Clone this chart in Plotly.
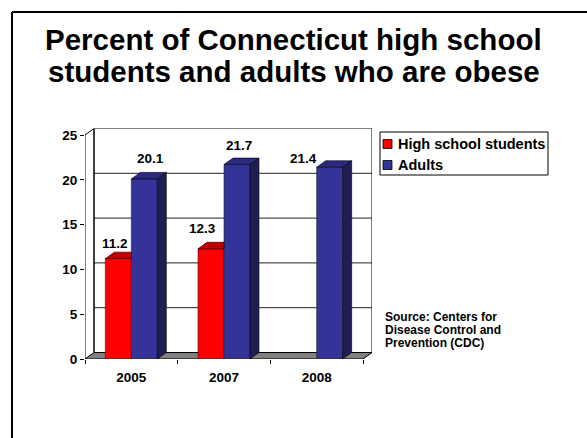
import plotly.graph_objects as go

# ---- data ----
years = ["2005", "2007", "2008"]
high_school = [11.2, 12.3, None]
adults = [20.1, 21.7, 21.4]
series_names = ["High school students", "Adults"]
y_ticks = [0, 5, 10, 15, 20, 25]
source_lines = ["Source: Centers for", "Disease Control and", "Prevention (CDC)"]

# ---- styling / geometry (pixels) ----
W, H = 587, 438
FRONT_LEFT, FRONT_RIGHT = 85, 363      # front plane of the x axis
BASE_PX, TOP_PX = 359, 135             # y pixel of 0 and of y max on the front plane
DEPTH_X, DEPTH_Y = 9, 6.5              # 3-D depth offset
BAR_PX = 26                            # bar width
Y_MAX = 25

front_colors = ["#FF0000", "#333399"]
top_colors = ["#C00000", "#2A2A80"]
side_colors = ["#800000", "#1E1E52"]
FONT = "Liberation Sans, Arial, sans-serif"

n_cat = len(years)
ppu_x = (FRONT_RIGHT - FRONT_LEFT) / n_cat
ppu_y = (BASE_PX - TOP_PX) / Y_MAX
dx = DEPTH_X / ppu_x
dy = DEPTH_Y / ppu_y
bw = BAR_PX / ppu_x

xs = list(range(n_cat))
x0, x1 = -0.5, n_cat - 0.5

fig = go.Figure()


def poly(px, py, fill, line="black", lw=0.7):
    fig.add_trace(go.Scatter(
        x=px + [px[0]], y=py + [py[0]], mode="lines", fill="toself",
        fillcolor=fill, line=dict(color=line, width=lw),
        hoverinfo="skip", showlegend=False))


def back_path(px, py, fill=None, color="black", lw=1, close=True):
    # drawn underneath the traces, in data coordinates
    d = "M" + " L".join(f"{a},{b}" for a, b in zip(px, py)) + (" Z" if close else "")
    fig.add_shape(type="path", xref="x", yref="y", path=d, layer="below",
                  fillcolor=fill if fill else "rgba(0,0,0,0)",
                  line=dict(color=color, width=lw))


# back wall with gridlines
back_path([x0 + dx, x1 + dx, x1 + dx, x0 + dx], [dy, dy, Y_MAX + dy, Y_MAX + dy], "white")
for t in y_ticks[1:-1]:
    back_path([x0 + dx, x1 + dx], [t + dy, t + dy], color="#202020", close=False)
# left wall outline
back_path([x0, x0, x0 + dx, x0 + dx], [0, Y_MAX, Y_MAX + dy, dy], close=False)
# floor
back_path([x0, x1, x1 + dx, x0 + dx], [0, 0, dy, dy], "#808080")

# front faces of the bars
series = [high_school, adults]
for s, (vals, name) in enumerate(zip(series, series_names)):
    fig.add_trace(go.Bar(
        x=xs, y=vals, name=name,
        marker=dict(color=front_colors[s], line=dict(color="#222222", width=0.6)),
        showlegend=False, hoverinfo="skip"))

# top and side faces
n_s = len(series)
for c in xs:
    for s, vals in enumerate(series):
        v = vals[c]
        if v is None:
            continue
        l = c - n_s * bw / 2 + s * bw
        r = l + bw
        nxt = series[s + 1][c] if s + 1 < n_s else None
        hidden = nxt is not None and nxt >= v + dy
        if hidden:
            poly([l, r, r, l + dx], [v, v, v + dy, v + dy], top_colors[s], lw=0.6)
        else:
            poly([l, r, r + dx, l + dx], [v, v, v + dy, v + dy], top_colors[s], lw=0.6)
            poly([r, r + dx, r + dx, r], [0, dy, v + dy, v], side_colors[s], lw=0.6)

# data labels (pixel nudges per label)
label_shift = {(0, 0): (-7.5, 9), (0, 1): (1.5, 14), (1, 0): (-13.5, 14),
               (1, 1): (-3, 13), (2, 1): (-31, 2)}
for s, vals in enumerate(series):
    for c, v in enumerate(vals):
        if v is None:
            continue
        l = c - n_s * bw / 2 + s * bw
        sx, sy = label_shift.get((c, s), (0, 10))
        fig.add_annotation(x=l + bw / 2 + dx / 2, y=v + dy, text=f"<b>{v:.1f}</b>",
                           showarrow=False, xshift=sx, yshift=sy,
                           yanchor="middle",
                           font=dict(family=FONT, size=13.5, color="black"))

fig.update_layout(
    width=W, height=H, margin=dict(l=0, r=0, t=0, b=0),
    paper_bgcolor="white", plot_bgcolor="rgba(0,0,0,0)",
    barmode="group", bargap=1 - n_s * bw, bargroupgap=0,
    showlegend=False,
    font=dict(family=FONT, color="black"),
    xaxis=dict(
        domain=[FRONT_LEFT / W, (FRONT_RIGHT + DEPTH_X) / W],
        range=[x0, x1 + dx], tickvals=xs, ticktext=[f"<b>{y}</b>" for y in years],
        ticks="", showgrid=False, zeroline=False, showline=False,
        automargin=False, ticklabelstandoff=8,
        tickfont=dict(size=13.5, family=FONT),
        minor=dict(tickvals=[x0 + i for i in range(n_cat + 1)], ticks="outside",
                   ticklen=4, tickcolor="black", showgrid=False),
    ),
    yaxis=dict(
        domain=[(H - BASE_PX) / H, (H - (TOP_PX - DEPTH_Y)) / H],
        range=[0, Y_MAX + dy], tickvals=y_ticks,
        ticktext=[f"<b>{t}</b>" for t in y_ticks],
        ticks="outside", ticklen=4, tickcolor="black",
        showgrid=False, zeroline=False, showline=False, automargin=False,
        tickfont=dict(size=13.5, family=FONT),
    ),
)

# slide frame
fig.add_shape(type="line", xref="paper", yref="paper", x0=12 / W, x1=12 / W,
              y0=0, y1=(H - 12) / H, line=dict(color="black", width=2))
fig.add_shape(type="line", xref="paper", yref="paper", x0=12 / W, x1=1,
              y0=(H - 12) / H, y1=(H - 12) / H, line=dict(color="black", width=2))

# title
title_lines = ["Percent of Connecticut high school", "students and adults who are obese"]
for i, line in enumerate(title_lines):
    fig.add_annotation(xref="paper", yref="paper", x=293.5 / W, y=(H - 39 - 32 * i) / H,
                       xanchor="center", yanchor="middle", showarrow=False,
                       text=f"<b>{line}</b>",
                       font=dict(family=FONT, size=29.5, color="black"))

# legend
LX0, LX1, LY0, LY1 = 380, 548, 132, 175
fig.add_shape(type="rect", xref="paper", yref="paper", x0=LX0 / W, x1=LX1 / W,
              y0=(H - LY1) / H, y1=(H - LY0) / H, line=dict(color="black", width=1),
              fillcolor="white")
for i, name in enumerate(series_names):
    cy = 144 + i * 21
    fig.add_shape(type="rect", xref="paper", yref="paper",
                  x0=383 / W, x1=392 / W, y0=(H - cy - 4.5) / H, y1=(H - cy + 4.5) / H,
                  line=dict(color="black", width=0.8), fillcolor=front_colors[i])
    fig.add_annotation(xref="paper", yref="paper", x=396 / W, y=(H - cy) / H,
                       xanchor="left", yanchor="middle", showarrow=False,
                       text=f"<b>{name}</b>", font=dict(family=FONT, size=14.5, color="black"))

# source note
for i, line in enumerate(source_lines):
    fig.add_annotation(xref="paper", yref="paper", x=383 / W, y=(H - 317 - 13 * i) / H,
                       xanchor="left", yanchor="middle", showarrow=False,
                       text=f"<b>{line}</b>",
                       font=dict(family=FONT, size=12, color="black"))

fig.write_html("out.html")
